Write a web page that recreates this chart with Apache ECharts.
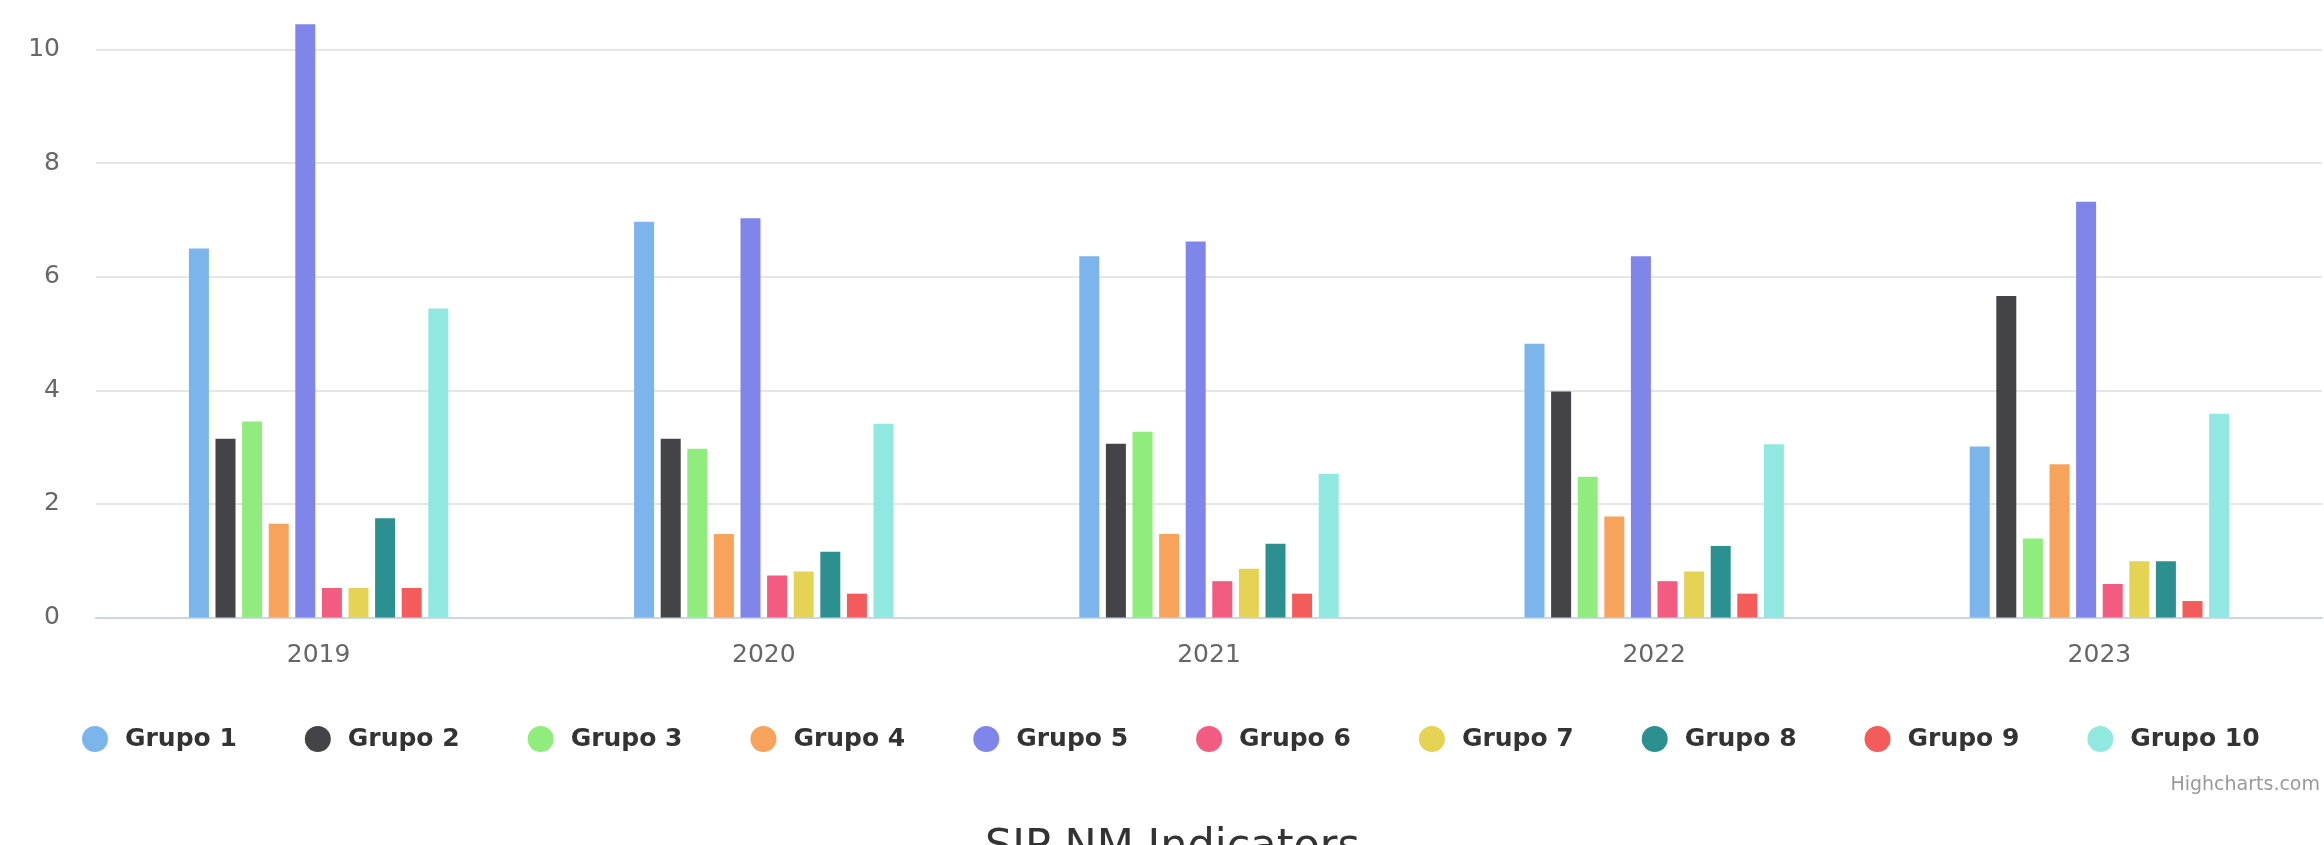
<!DOCTYPE html>
<html>
<head>
<meta charset="utf-8">
<script src="https://cdn.jsdelivr.net/npm/echarts@6/dist/echarts.min.js"></script>
<style>
html,body{margin:0;padding:0;background:#fff;}
#c{width:2324px;height:845px;}
</style>
</head>
<body>
<div id="c"></div>
<script>
var categories = ['2019', '2020', '2021', '2022', '2023'];
var seriesNames = ['Grupo 1','Grupo 2','Grupo 3','Grupo 4','Grupo 5','Grupo 6','Grupo 7','Grupo 8','Grupo 9','Grupo 10'];
var colors = ['#7cb5ec','#434348','#90ed7d','#f7a35c','#8085e9','#f15c80','#e4d354','#2b908f','#f45b5b','#91e8e1'];
var grupo1  = [6.50, 6.97, 6.36, 4.82, 3.01];
var grupo2  = [3.15, 3.15, 3.06, 3.98, 5.66];
var grupo3  = [3.45, 2.97, 3.27, 2.48, 1.39];
var grupo4  = [1.65, 1.47, 1.47, 1.78, 2.70];
var grupo5  = [10.45, 7.03, 6.62, 6.36, 7.32];
var grupo6  = [0.52, 0.74, 0.64, 0.64, 0.59];
var grupo7  = [0.52, 0.81, 0.86, 0.81, 0.99];
var grupo8  = [1.75, 1.16, 1.30, 1.26, 0.99];
var grupo9  = [0.52, 0.42, 0.42, 0.42, 0.29];
var grupo10 = [5.44, 3.41, 2.53, 3.05, 3.59];
var yMin = 0, yStep = 2, yVisibleMax = 10.875;
var titleText = 'SIP NM Indicators';
var creditText = 'Highcharts.com';

var allData = [grupo1,grupo2,grupo3,grupo4,grupo5,grupo6,grupo7,grupo8,grupo9,grupo10];
var FONT = 'DejaVu Sans';

var chart = echarts.init(document.getElementById('c'), null, {renderer:'canvas'});
var series = seriesNames.map(function(n, i){
  return {
    name: n, type: 'bar', data: allData[i],
    barWidth: 20, barGap: '33%',
    itemStyle: {color: colors[i]},
    animation: false
  };
});
chart.setOption({
  animation: false,
  color: colors,
  grid: {left: 96, right: 2, top: 0, bottom: 227.5, containLabel: false},
  xAxis: {
    type: 'category', data: categories,
    axisLine: {show: true, lineStyle: {color: '#ccd6eb', width: 2}},
    axisTick: {show: false},
    axisLabel: {color: '#666', fontFamily: FONT, fontSize: 25, margin: 25}
  },
  yAxis: {
    type: 'value', min: yMin, max: yVisibleMax, interval: yStep,
    axisLine: {show: false}, axisTick: {show: false},
    splitLine: {showMaxLine: false, lineStyle: {color: '#e6e6e6', width: 2}},
    axisLabel: {showMaxLabel: false, color: '#666', fontFamily: FONT, fontSize: 25, margin: 36}
  },
  legend: {
    data: seriesNames.map(function(n){ return {name: n, icon: 'circle'}; }),
    left: 77, top: 721,
    itemWidth: 26, itemHeight: 26, itemGap: 68,
    textStyle: {color: '#333', fontFamily: FONT, fontSize: 25, fontWeight: 'bold', padding: [0,0,0,12], width: 112, overflow: 'none'}
  },
  graphic: [
    {type: 'text', right: 4, top: 776, style: {text: creditText, fill: '#999', font: '19px "' + FONT + '"'}},
    {type: 'text', left: 985, top: 826, style: {text: titleText, fill: '#333', font: '43px "' + FONT + '"'}}
  ],
  series: series
});
</script>
</body>
</html>
